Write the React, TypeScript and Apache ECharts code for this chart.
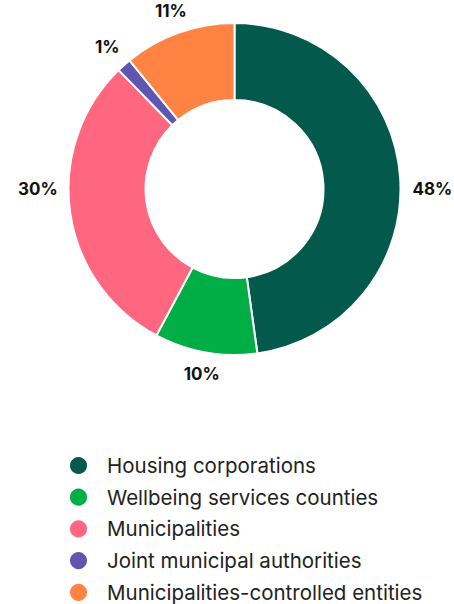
import React, { useEffect, useRef } from "react";
import * as echarts from "echarts";

const categories = [
  "Housing corporations",
  "Wellbeing services counties",
  "Municipalities",
  "Joint municipal authorities",
  "Municipalities-controlled entities",
];
const shares = [47.8, 10.0, 29.9, 1.4, 10.9];
const shareLabels = ["48%", "10%", "30%", "1%", "11%"];
const colors = ["#02594C", "#00AE45", "#FF667F", "#5F56B0", "#FF8443"];

export default function App() {
  const ref = useRef<HTMLDivElement>(null);
  useEffect(() => {
    document.body.style.margin = "0";
    const chart = echarts.init(ref.current!, null, { renderer: "svg" });
    const cx = 234.5;
    const cy = 189;
    const rOuter = 166;
    const rInner = 89;
    const labelFontSize = 17;
    const total = shares.reduce((a, b) => a + b, 0);
    const cum: number[] = [];
    let acc = 0;
    shares.forEach((v) => {
      cum.push(acc);
      acc += v;
    });
    const measure = document.createElement("canvas").getContext("2d")!;
    measure.font = `bold ${labelFontSize}px Inter`;
    chart.setOption({
      animation: false,
      color: colors,
      legend: {
        orient: "vertical",
        left: 68,
        top: 455,
        padding: 0,
        icon: "circle",
        itemWidth: 19,
        itemHeight: 19,
        itemGap: 10.7,
        selectedMode: false,
        textStyle: {
          fontFamily: "Inter",
          fontSize: 20.5,
          lineHeight: 21,
          color: "#222222",
          padding: [0, 0, 0, 14],
        },
        data: categories,
      },
      series: [
        {
          type: "pie",
          center: [cx, cy],
          radius: [rInner, rOuter],
          startAngle: 90,
          clockwise: true,
          itemStyle: { borderColor: "#ffffff", borderWidth: 2 },
          emphasis: { disabled: true },
          label: {
            show: true,
            position: "outside",
            width: 60,
            overflow: "none",
            formatter: (p: any) => shareLabels[p.dataIndex],
            fontFamily: "Inter",
            fontWeight: "bold",
            fontSize: labelFontSize,
            color: "#111111",
          },
          labelLine: { show: false },
          labelLayout: (params: any) => {
            const i = params.dataIndex;
            const mid = ((cum[i] + shares[i] / 2) / total) * Math.PI * 2;
            const dx = Math.sin(mid);
            const dy = -Math.cos(mid);
            const w = measure.measureText(shareLabels[i]).width;
            const h = labelFontSize * 0.75;
            const r = rOuter + 12 + (Math.abs(dx) * w) / 2 + (Math.abs(dy) * h) / 2;
            const side = Math.abs(dy) < 0.2;
            return {
              x: cx + dx * r,
              y: side ? cy : cy + dy * r,
              align: "center",
              verticalAlign: "middle",
            };
          },
          data: categories.map((name, i) => ({ name, value: shares[i] })),
        },
      ],
    });
    return () => chart.dispose();
  }, []);
  return <div ref={ref} style={{ width: 454, height: 604 }} />;
}
